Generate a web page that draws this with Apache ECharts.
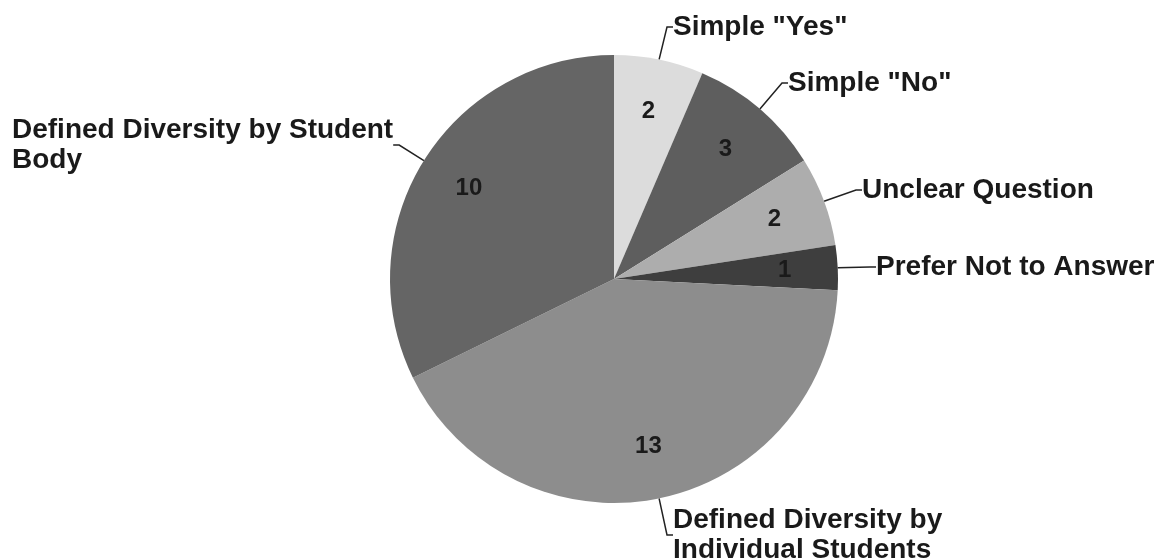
<!DOCTYPE html>
<html>
<head>
<meta charset="utf-8">
<script src="https://cdn.jsdelivr.net/npm/echarts@6/dist/echarts.min.js"></script>
<style>
  html, body { margin: 0; padding: 0; background: #fff; }
  #main { width: 1158px; height: 559px; }
</style>
</head>
<body>
<div id="main"></div>
<script>
// answers, clockwise from 12 o'clock
var categories = ['Simple "Yes"', 'Simple "No"', 'Unclear Question', 'Prefer Not to Answer',
  'Defined Diversity by Individual Students', 'Defined Diversity by Student Body'];
var labelText = ['Simple "Yes"', 'Simple "No"', 'Unclear Question', 'Prefer Not to Answer',
  'Defined Diversity by\nIndividual Students', 'Defined Diversity by Student\nBody'];
var counts = [2, 3, 2, 1, 13, 10];
var colors = ['#dcdcdc', '#5e5e5e', '#adadad', '#3e3e3e', '#8d8d8d', '#656565'];

onload = function () {
  var myChart = echarts.init(document.getElementById('main'));
  var R = 224;
  var center = [614, 279];
  var font = 'Liberation Sans, Arial, sans-serif';
  // where the outside names sit (left edge, middle of text block)
  var labelPos = [[673, 27], [788, 83], [862, 190], [876, 267], [673, 535], [12, 145]];

  var sliceData = categories.map(function (c, i) {
    return { name: c, value: counts[i], itemStyle: { color: colors[i] } };
  });
  var valueData = categories.map(function (c, i) {
    return { name: c, value: counts[i] };
  });

  myChart.setOption({
    backgroundColor: '#fff',
    animation: false,
    series: [{
      type: 'pie',
      center: center,
      radius: [0, R],
      startAngle: 90,
      clockwise: true,
      silent: true,
      data: sliceData,
      itemStyle: { borderWidth: 0 },
      label: {
        show: true,
        position: 'outside',
        formatter: function (p) { return labelText[p.dataIndex]; },
        color: '#1a1a1a',
        fontFamily: font,
        fontWeight: 'bold',
        fontSize: 28,
        lineHeight: 30
      },
      labelLine: {
        show: true,
        length: 6,
        length2: 6,
        lineStyle: { color: '#222', width: 1.5 }
      },
      labelLayout: function (p) {
        var pos = labelPos[p.dataIndex];
        return { x: pos[0], y: pos[1], align: 'left', verticalAlign: 'middle' };
      }
    }, {
      // value labels inside the slices
      type: 'pie',
      center: center,
      radius: [R * 0.5, R],
      startAngle: 90,
      clockwise: true,
      silent: true,
      data: valueData,
      itemStyle: { color: 'rgba(0,0,0,0)' },
      label: {
        show: true,
        position: 'inside',
        formatter: '{c}',
        color: '#1a1a1a',
        fontFamily: font,
        fontWeight: 'bold',
        fontSize: 24
      },
      labelLine: { show: false }
    }]
  });
};
</script>
</body>
</html>
